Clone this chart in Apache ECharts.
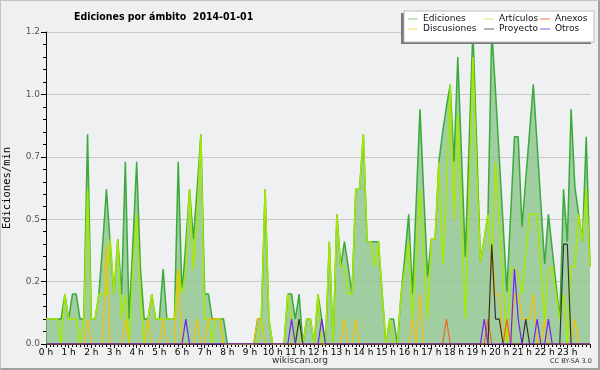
<!DOCTYPE html>
<html><head><meta charset="utf-8">
<script src="https://cdn.jsdelivr.net/npm/echarts@6/dist/echarts.min.js"></script>
<style>
html,body{margin:0;padding:0;background:#f0f0f0}
#c{width:600px;height:370px;position:absolute;left:0;top:0}
#frame{position:absolute;left:0;top:0;width:600px;height:370px;box-sizing:border-box;border:1px solid #c4c4c4;border-right:2px solid #a0a0a0;border-bottom:2px solid #a0a0a0;pointer-events:none}
</style>
</head><body><div id="c"></div><div id="frame"></div>
<script>
// sample step in minutes
const stepMinutes = 10;
const hourTicks = ['0 h','1 h','2 h','3 h','4 h','5 h','6 h','7 h','8 h','9 h','10 h','11 h','12 h','13 h','14 h','15 h','16 h','17 h','18 h','19 h','20 h','21 h','22 h','23 h'];
const yTicks = ['0.0','0.2','0.5','0.7','1.0','1.2'];

const ediciones = [
0.1,0.1,0.1,0.1,0.1,0.2,0.1,0.2,0.2,0.1,
0.1,0.84,0.1,0.1,0.2,0.4,0.62,0.4,0.2,0.42,
0.2,0.73,0.1,0.4,0.73,0.3,0.1,0.1,0.2,0.1,
0.1,0.3,0.1,0.1,0.1,0.73,0.2,0.4,0.62,0.42,
0.62,0.84,0.2,0.2,0.1,0.1,0.1,0.1,0,0,
0,0,0,0,0,0,0.1,0.1,0.62,0.1,
0,0,0,0,0.2,0.2,0.1,0.2,0,0.1,
0.1,0,0.2,0.1,0,0.41,0,0.52,0.31,0.41,
0.31,0.2,0.62,0.62,0.84,0.41,0.41,0.41,0.41,0.2,
0,0.1,0.1,0,0.2,0.35,0.52,0.2,0.57,0.94,
0.6,0.27,0.42,0.42,0.73,0.85,0.95,1.04,0.73,1.15,
0.75,0.35,0.8,1.26,0.8,0.33,0.42,0.52,1.26,1.01,
0.74,0.48,0.21,0.52,0.83,0.83,0.47,0.66,0.85,1.04,
0.8,0.56,0.32,0.52,0.38,0.24,0.1,0.62,0.41,0.94,
0.63,0.52,0.41,0.83,0.31];

const articulos = [
0.1,0.1,0.1,0.1,0,0.2,0.1,0.1,0.1,0,
0.1,0.62,0.1,0.1,0.2,0.2,0.2,0.42,0.2,0.42,
0.1,0.2,0,0.3,0.52,0.2,0,0.1,0.2,0.1,
0.1,0.1,0.1,0.1,0.1,0.3,0.2,0.3,0.62,0.3,
0.52,0.84,0.1,0.1,0,0.1,0.1,0,0,0,
0,0,0,0,0,0,0,0.1,0.62,0.1,
0,0,0,0,0.2,0.1,0,0.1,0,0.1,
0.1,0,0.2,0,0,0.41,0,0.52,0.31,0.31,
0.2,0.2,0.62,0.62,0.84,0.41,0.41,0.31,0.41,0.2,
0,0.1,0,0,0.2,0.3,0.41,0.1,0.35,0.62,
0.35,0.1,0.42,0.42,0.73,0.32,0.6,1.04,0.5,0.92,
0.5,0.1,0.6,1.15,0.7,0.33,0.42,0.52,0.32,0.73,
0.5,0.25,0,0.3,0.3,0.28,0.2,0.36,0.52,0.52,
0.52,0.3,0.1,0.3,0.31,0.2,0.1,0.2,0,0.31,
0.31,0.52,0.41,0.62,0.31];

const discusiones = [
0,0,0,0,0,0,0,0,0,0,
0,0.1,0,0,0,0,0.4,0,0,0,
0,0.1,0,0,0,0,0,0.1,0,0,
0,0.1,0,0,0,0.3,0,0,0,0,
0.1,0,0,0.1,0.1,0.1,0.1,0,0,0,
0,0,0,0,0,0,0.1,0.1,0,0,
0,0,0,0,0,0,0,0,0,0,
0,0,0,0,0,0,0,0,0,0.1,
0,0,0.1,0,0,0,0,0,0,0,
0,0,0,0,0,0,0,0.1,0,0.2,
0,0,0,0,0,0,0,0,0,0,
0,0,0,0,0,0,0,0,0.4,0.2,
0.2,0,0.1,0,0.2,0.2,0.1,0.1,0.1,0.2,
0,0,0.1,0,0,0,0,0,0,0,
0.1,0,0,0,0];

const anexos = [
0,0,0,0,0,0,0,0,0,0,
0,0,0,0,0,0,0,0,0,0,
0,0,0,0,0,0,0,0,0,0,
0,0,0,0,0,0,0,0,0,0,
0,0,0,0,0,0,0,0,0,0,
0,0,0,0,0,0,0,0,0,0,
0,0,0,0,0,0,0,0,0,0,
0,0,0,0,0,0,0,0,0,0,
0,0,0,0,0,0,0,0,0,0,
0,0,0,0,0,0,0,0,0,0,
0,0,0,0,0,0,0.1,0,0,0,
0,0,0,0,0,0,0,0.1,0,0,
0,0,0.1,0,0,0,0,0,0,0,
0,0,0,0,0,0,0,0,0,0,
0,0,0,0,0];

const proyecto = [
0,0,0,0,0,0,0,0,0,0,
0,0,0,0,0,0,0,0,0,0,
0,0,0,0,0,0,0,0,0,0,
0,0,0,0,0,0,0,0,0,0,
0,0,0,0,0,0,0,0,0,0,
0,0,0,0,0,0,0,0,0,0,
0,0,0,0,0,0,0,0.1,0,0,
0,0,0,0,0,0,0,0,0,0,
0,0,0,0,0,0,0,0,0,0,
0,0,0,0,0,0,0,0,0,0,
0,0,0,0,0,0,0,0,0,0,
0,0,0,0,0,0,0,0,0.4,0.1,
0.1,0,0,0,0,0,0,0.1,0,0,
0,0,0,0,0,0,0,0.4,0.4,0,
0,0,0,0,0];

const otros = [
0,0,0,0,0,0,0,0,0,0,
0,0,0,0,0,0,0,0,0,0,
0,0,0,0,0,0,0,0,0,0,
0,0,0,0,0,0,0,0.1,0,0,
0,0,0,0,0,0,0,0,0,0,
0,0,0,0,0,0,0,0,0,0,
0,0,0,0,0,0.1,0,0,0,0,
0,0,0,0.1,0,0,0,0,0,0,
0,0,0,0,0,0,0,0,0,0,
0,0,0,0,0,0,0,0,0,0,
0,0,0,0,0,0,0,0,0,0,
0,0,0,0,0,0,0.1,0,0,0,
0,0,0,0,0.3,0.1,0,0,0,0,
0.1,0,0,0.1,0,0,0,0,0,0,
0,0,0,0,0];

const toXY = arr => arr.map((v, i) => [i * stepMinutes / 60, v]);

const chart = echarts.init(document.getElementById('c'), null, {renderer: 'canvas'});
const lineSeries = (name, data, color, width, z) => ({
  name, type: 'line', data: toXY(data), symbol: 'none', z,
  lineStyle: {color, width}, itemStyle: {color}, silent: true, animation: false
});
const legendText = {fontFamily: 'DejaVu Sans', fontSize: 9, color: '#111', lineHeight: 10};
const legendBase = {orient: 'vertical', top: 14, itemGap: 0, itemWidth: 10, itemHeight: 1, icon: 'rect', textStyle: legendText, selectedMode: false, padding: 0, z: 100};

chart.setOption({
  animation: false,
  backgroundColor: '#f0f0f0',
  title: {text: 'Ediciones por ámbito  2014-01-01', left: 69, top: 7,
    textStyle: {fontFamily: 'DejaVu Sans Condensed', fontWeight: 'bold', fontSize: 10.5, color: '#000'}},
  grid: {left: 46, right: 10, top: 32, bottom: 26, show: true, backgroundColor: '#eef0f2', borderWidth: 0, containLabel: false, outerBoundsMode: 'none'},
  legend: [
    Object.assign({}, legendBase, {left: 408, data: [
      {name: 'Ediciones', itemStyle: {color: '#88cc88'}},
      {name: 'Discusiones', itemStyle: {color: '#ffdd55'}}]}),
    Object.assign({}, legendBase, {left: 484, data: [
      {name: 'Artículos', itemStyle: {color: '#ccee66'}},
      {name: 'Proyecto', itemStyle: {color: '#666666'}}]}),
    Object.assign({}, legendBase, {left: 540, data: [
      {name: 'Anexos', itemStyle: {color: '#ee7744'}},
      {name: 'Otros', itemStyle: {color: '#9955ee'}}]})
  ],
  graphic: [
    {type: 'rect', shape: {x: 401, y: 13, width: 190, height: 31}, style: {fill: '#777'}, z: 90},
    {type: 'rect', shape: {x: 404, y: 11, width: 190, height: 31}, style: {fill: '#fff', stroke: '#bbb', lineWidth: 1}, z: 91},
    {type: 'text', left: 'center', top: 356, style: {text: 'wikiscan.org', font: '9px "DejaVu Sans"', fill: '#333'}, z: 100},
    {type: 'text', left: 550, top: 358, style: {text: 'CC BY-SA 3.0', font: '6.5px "DejaVu Sans"', fill: '#333'}, z: 100}
  ],
  xAxis: {
    type: 'value', min: 0, max: 24, interval: 1,
    axisLine: {show: true, lineStyle: {color: '#000', width: 1}},
    axisTick: {show: true, length: 4, lineStyle: {color: '#000'}},
    minorTick: {show: true, splitNumber: 6, length: 3, lineStyle: {color: '#000'}},
    splitLine: {show: false},
    axisLabel: {margin: 4, fontFamily: 'DejaVu Sans', fontSize: 9, color: '#000',
      formatter: v => (v < hourTicks.length ? hourTicks[v] : '')}
  },
  yAxis: {
    type: 'value', min: 0, max: 1.25, interval: 0.25,
    name: 'Ediciones/min', nameLocation: 'middle', nameGap: 33, nameRotate: 90,
    nameTextStyle: {fontFamily: 'DejaVu Sans Mono', fontSize: 10.5, color: '#000'},
    axisLine: {show: true, lineStyle: {color: '#000', width: 1}},
    axisTick: {show: true, length: 5, lineStyle: {color: '#000'}},
    minorTick: {show: true, splitNumber: 5, length: 3, lineStyle: {color: '#000'}},
    splitLine: {show: true, lineStyle: {color: '#c8c8c8', width: 1}},
    axisLabel: {margin: 6, fontFamily: 'DejaVu Sans', fontSize: 9, color: '#555',
      formatter: v => yTicks[Math.round(v / 0.25)]}
  },
  series: [
    Object.assign(lineSeries('Ediciones', ediciones, '#3aaa3a', 1.5, 2), {areaStyle: {color: '#8cc68c', opacity: 0.8}}),
    lineSeries('Artículos', articulos, '#a6e800', 1.5, 3),
    lineSeries('Discusiones', discusiones, '#f5c000', 1.2, 4),
    lineSeries('Anexos', anexos, '#ee6622', 1.2, 5),
    lineSeries('Proyecto', proyecto, '#333333', 1.2, 6),
    lineSeries('Otros', otros, '#7722ee', 1.2, 7)
  ]
});
</script>
</body></html>
